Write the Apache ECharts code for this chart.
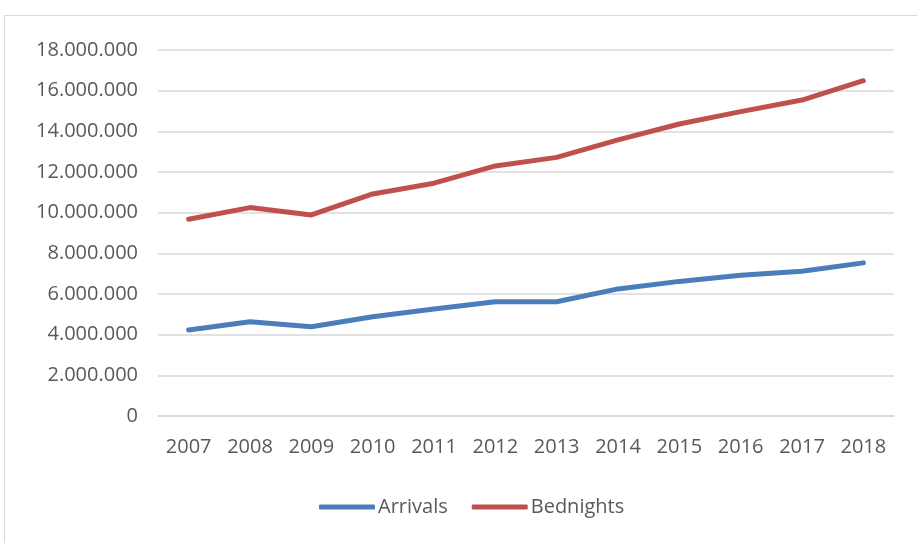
<!DOCTYPE html>
<html>
<head>
<meta charset="utf-8">
<script src="https://cdn.jsdelivr.net/npm/echarts@6/dist/echarts.min.js"></script>
<style>html,body{margin:0;padding:0;background:#fff}#c{width:917px;height:543px}</style>
</head>
<body>
<div id="c"></div>
<script>
var years = ['2007','2008','2009','2010','2011','2012','2013','2014','2015','2016','2017','2018'];
var arrivals = [4230000,4640000,4390000,4880000,5260000,5620000,5620000,6250000,6620000,6920000,7120000,7530000];
var bednights = [9680000,10250000,9890000,10920000,11450000,12300000,12720000,13580000,14360000,14970000,15540000,16490000];
var seriesNames = ['Arrivals','Bednights'];
var yMin = 0, yMax = 18000000, yStep = 2000000;

var font = '"Open Sans", "Liberation Sans", sans-serif';
var chart = echarts.init(document.getElementById('c'), null, {renderer:'canvas'});
function fmt(v){ return String(v).replace(/\B(?=(\d{3})+(?!\d))/g, '.'); }
chart.setOption({
  animation:false,
  backgroundColor:'#fff',
  graphic:[{type:'rect', shape:{x:4.5,y:15.5,width:1000,height:1000}, style:{fill:'none', stroke:'#d9d9d9', lineWidth:1}, silent:true}],
  grid:{left:158, right:23, top:50, bottom:127},
  legend:{
    data:seriesNames, top:492, left:314, itemWidth:56, itemHeight:5, itemGap:24,
    icon:'roundRect',
    textStyle:{fontFamily:font, fontSize:20, color:'#595959', padding:[0,0,0,-2]}
  },
  xAxis:{
    type:'category', data:years, boundaryGap:true,
    axisLine:{show:true, lineStyle:{color:'#d9d9d9', width:1.5}},
    axisTick:{show:false},
    axisLabel:{fontFamily:font, fontSize:20, color:'#595959', margin:21}
  },
  yAxis:{
    type:'value', min:yMin, max:yMax, interval:yStep,
    axisLine:{show:false}, axisTick:{show:false},
    splitLine:{lineStyle:{color:'#d9d9d9', width:1.5}},
    axisLabel:{fontFamily:font, fontSize:20, color:'#595959', margin:20, formatter:fmt}
  },
  series:[
    {name:seriesNames[0], type:'line', data:arrivals, symbol:'none', color:'#4a7ebb',
     lineStyle:{width:5, color:'#4a7ebb', cap:'round', join:'round'}},
    {name:seriesNames[1], type:'line', data:bednights, symbol:'none', color:'#c0504d',
     lineStyle:{width:5, color:'#c0504d', cap:'round', join:'round'}}
  ]
});
</script>
</body>
</html>
